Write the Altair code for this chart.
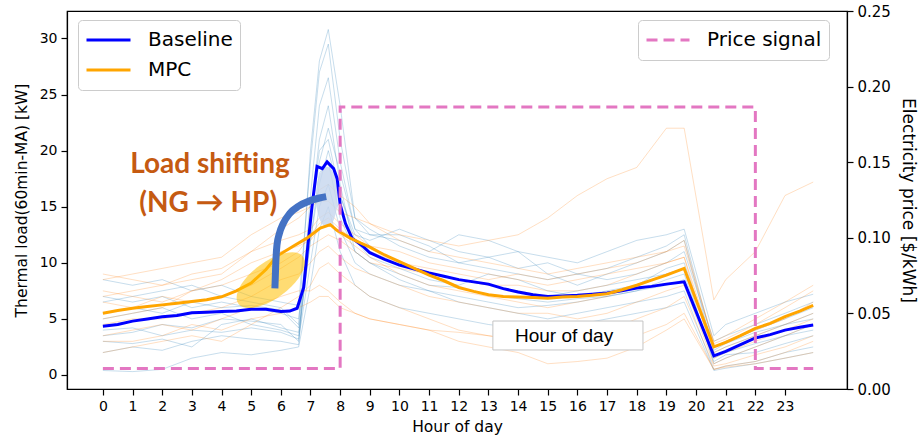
import altair as alt
import pandas as pd

# ---------------- data ----------------
X_TICKS = list(range(24))
KW_TICKS = [0, 5, 10, 15, 20, 25, 30]
PRICE_TICKS = [0.0, 0.05, 0.10, 0.15, 0.20, 0.25]

base_t = [0, 0.5, 1, 1.5, 2, 2.5, 3, 3.5, 4, 4.5, 5, 5.5, 6, 6.3, 6.55, 6.77, 6.93, 7.05, 7.22, 7.4,
          7.56, 7.78, 7.9, 8.0, 8.18, 8.4, 8.8, 9, 9.5, 10, 10.5, 11, 11.5, 12, 12.5, 13, 13.5, 14, 14.5, 15,
          15.5, 16, 16.5, 17, 17.5, 18, 18.5, 19, 19.6, 20.6, 21, 21.5, 22, 22.5, 23, 23.5, 23.95]
base_v = [4.35, 4.5, 4.8, 5.0, 5.2, 5.3, 5.55, 5.6, 5.65, 5.7, 5.85, 5.85, 5.65, 5.7, 5.95, 7.8, 12.0, 15.0, 18.6, 18.4,
          19.0, 18.4, 17.5, 15.2, 13.5, 12.2, 11.4, 10.9, 10.3, 9.8, 9.45, 9.1, 8.8, 8.5, 8.3, 8.1, 7.7, 7.4, 7.15, 7.0,
          7.05, 7.1, 7.2, 7.3, 7.5, 7.75, 7.9, 8.1, 8.3, 1.7, 2.1, 2.7, 3.3, 3.6, 4.0, 4.25, 4.45]

mpc_t = [0, 0.5, 1, 1.5, 2, 2.5, 3, 3.5, 4, 4.5, 5, 5.5, 5.87, 6.43, 6.88, 7.33, 7.67, 7.89, 8.34,
         8.7, 9, 9.5, 10, 10.5, 11, 11.5, 12, 12.5, 13, 13.5, 14, 14.5, 15, 15.5, 16, 16.5, 17, 17.5, 18,
         18.5, 19, 19.6, 20.6, 21, 21.5, 22, 22.5, 23, 23.5, 23.95]
mpc_v = [5.5, 5.75, 5.95, 6.1, 6.25, 6.4, 6.55, 6.7, 6.97, 7.5, 8.2, 9.4, 10.6, 11.5, 12.2, 13.1, 13.4, 12.9, 12.2,
         11.75, 11.4, 10.7, 10.1, 9.5, 8.9, 8.4, 7.8, 7.45, 7.15, 7.0, 6.95, 6.9, 6.85, 6.95, 7.0, 7.1, 7.25, 7.6, 8.0,
         8.45, 8.9, 9.5, 2.5, 2.9, 3.5, 4.15, 4.6, 5.2, 5.7, 6.2]

price_t = [0, 8, 22, 23.95]
price_v = [0.0135, 0.1865, 0.0135, 0.0135]

bg_t = [0, 1, 2, 3, 4, 5, 6, 6.6, 7.0, 7.3, 7.6, 8.0, 8.5, 9, 10, 11, 12, 13, 14, 15,
        16, 17, 18, 19, 19.6, 20.6, 21, 22, 23, 23.95]

bg_blue = [
    [6.5, 7, 7.5, 8, 7, 6.5, 6, 4.5, 20, 28, 30.8, 24, 14, 13, 11.5, 10.5, 10, 9.5, 9, 8.5, 9, 9.5, 10.5, 11.5, 12.5, 2.5, 3, 4, 5, 6],
    [8.5, 8, 8.5, 7.5, 8, 7, 6.5, 6.2, 19, 27, 29.5, 21, 14, 12.5, 12, 11, 12.5, 12, 11, 10.5, 10, 11, 12, 12.5, 13, 3.5, 4.5, 5.5, 6.5, 7.2],
    [3.5, 3.8, 4.5, 4.2, 5, 4.8, 4.5, 3, 16, 24, 26.5, 19, 13, 11.5, 10, 9, 8.5, 8, 7.5, 7, 7.5, 8, 8.5, 9, 9.5, 1, 1.5, 2.5, 3.5, 4],
    [2, 2.5, 2.2, 3, 3.5, 3.2, 3, 2.7, 14, 21, 24, 17, 11, 10, 8.5, 7.5, 6.5, 6, 5.5, 5, 5.5, 6, 6.5, 7, 7.5, 0.5, 0.8, 1.2, 2, 2.5],
    [5, 5.5, 6, 5, 5.5, 4.5, 4, 3.5, 12, 17, 20, 16, 12.5, 12, 13, 12, 11, 10.5, 9.5, 10, 9, 8.5, 9, 10, 11, 3, 3.5, 4.5, 5.5, 6.5],
    [4, 4.2, 3.5, 4, 3.8, 4.2, 3.8, 3.2, 10, 15, 17, 13, 10, 9, 8, 7.5, 7, 6.5, 6, 6.2, 6.5, 7, 7.5, 8, 8.5, 1.5, 2, 2.8, 3.5, 4.5],
    [7, 6.5, 7, 6, 6.5, 6, 5.5, 5, 14, 19, 22, 18, 13, 12.5, 12.5, 11.5, 10, 10.5, 11, 9, 8, 9, 10, 11, 12, 2, 2.5, 3.5, 4.5, 5.5],
    [0.4, 0.3, 0.5, 1.5, 2, 1.8, 2.2, 2.5, 8, 13, 15, 11, 8, 7, 6, 5.5, 5, 4.5, 4.2, 4, 4.5, 5, 5.5, 6, 6.5, 0.4, 0.6, 1, 1.5, 2],
    [5.5, 6, 5.5, 6.5, 6, 6.2, 5.8, 4.2, 14, 20, 21, 16, 12, 10.5, 9.5, 8.5, 8, 9, 8.5, 7.5, 7, 7.5, 8, 9.5, 10, 2.2, 2.8, 3.8, 4.5, 5],
    [3, 2.8, 3.2, 2.5, 4.5, 5, 4.2, 3.8, 12, 18, 19, 14, 11, 10, 9, 8, 7.8, 7.2, 6.8, 6.5, 6.8, 7, 7.5, 8.5, 9, 1.2, 1.8, 2, 2.8, 3.5],
]

bg_orange = [
    [7, 7.5, 8, 8.5, 9, 11, 13, 14, 15, 15.5, 15.5, 14.5, 14, 13.5, 12.5, 12, 11.5, 12, 12.5, 14, 16, 17.5, 18.5, 22, 22, 6.7, 8.5, 11, 16, 17.2],
    [8.5, 9, 9.5, 10, 10.5, 12.5, 14, 14.5, 15, 16.5, 17, 16, 15, 13.5, 12, 11, 10.5, 10, 9.5, 9, 9.5, 10, 10.5, 11, 11.5, 3, 3.5, 5, 6.5, 8],
    [5, 5.5, 6, 7.5, 8.5, 10, 11, 11.5, 12, 13, 13.5, 12.5, 11.5, 10.5, 9, 8, 7.5, 7, 6.5, 6, 6.5, 7, 8, 9, 9.5, 2, 2.5, 3.5, 4.5, 5.5],
    [2, 2.5, 3, 3.5, 3, 4.5, 6, 7, 8, 9.5, 10, 9, 8, 7, 6, 5, 4, 3.5, 3, 3, 3.5, 4, 5, 6, 7, 0.8, 1, 1.8, 2.5, 3.5],
    [6.5, 6, 7, 6.5, 7, 8, 9.5, 10.5, 11.5, 12, 12.5, 12, 11, 10, 9.5, 9, 8.5, 8, 8, 7.5, 7.5, 8, 9, 10, 10.5, 2.5, 3, 4, 5, 6.5],
    [3.5, 4, 4.5, 4, 5, 6, 7, 7.5, 7.5, 8, 7.5, 6.5, 5.5, 5, 4.5, 4, 3, 2.5, 2, 1, 1.2, 1.5, 2.5, 4, 5, 0.5, 0.8, 1.2, 2, 3],
    [9, 8.5, 8, 9, 9.5, 11, 12, 12.5, 13, 14, 14.5, 13.5, 12.5, 11.5, 11, 10, 9.5, 9, 8.5, 8, 8.5, 9, 9.5, 10, 10.5, 1.5, 2, 3, 4, 5],
    [4.5, 5, 5, 5.5, 6, 7, 8.5, 9, 10, 11, 11.5, 10.5, 9.5, 9, 8, 7, 6.5, 6, 5.5, 5.5, 5, 5.5, 6.5, 7.5, 8, 1, 1.5, 2.5, 3.5, 4.5],
    [7.5, 7, 6.5, 7.5, 8, 9, 10, 11, 12.5, 13.5, 14, 13, 12, 11, 10, 9.5, 9, 8.5, 9, 8.5, 9, 9.5, 10, 11, 12, 2.8, 3.2, 4.5, 6, 7.5],
    [3, 3, 3.5, 4.5, 4, 5, 5.5, 6, 6.5, 7, 7, 6, 5.5, 5, 4.5, 4, 3.8, 3.5, 3.2, 3, 2.8, 3, 3.5, 4.5, 5.5, 0.5, 0.7, 1, 1.5, 2],
]

# annotation geometry (data coordinates)
arrow_t = [5.80, 5.83, 5.87, 5.95, 6.08, 6.3, 6.6, 6.95, 7.3, 7.53]
arrow_v = [7.73, 10.0, 11.6, 12.6, 13.5, 14.4, 15.05, 15.5, 15.78, 15.9]

label_lines = ["Load shifting", "(NG \u2192 HP)"]
label_t = [3.61, 3.55]
label_v = [18.0, 14.55]

# ---------------- frames ----------------
def long_df(lines, prefix):
    rows = []
    for i, vals in enumerate(lines):
        for t, v in zip(bg_t, vals):
            rows.append({"id": f"{prefix}{i}", "t": t, "v": v})
    return pd.DataFrame(rows)

df_bb = long_df(bg_blue, "b")
df_bo = long_df(bg_orange, "o")
df_main = pd.concat([
    pd.DataFrame({"t": base_t, "v": base_v, "series": "Baseline"}),
    pd.DataFrame({"t": mpc_t, "v": mpc_v, "series": "MPC"}),
])
df_price = pd.DataFrame({"t": price_t, "p": price_v, "s": "Price signal"})
df_arrow = pd.DataFrame({"t": arrow_t, "v": arrow_v, "k": list(range(len(arrow_t)))})
df_label = pd.DataFrame({"t": label_t, "v": label_v, "txt": label_lines})
df_ell = pd.DataFrame({"t": [5.66], "v": [8.45]})
df_blob = pd.DataFrame({"t": [7.55], "v": [15.9]})
df_box = pd.DataFrame({"t": [13.15], "t2": [18.21], "v": [4.81], "v2": [2.23]})
df_boxtxt = pd.DataFrame({"t": [15.55], "v": [3.5], "txt": ["Hour of day"]})

# ---------------- scales / axes ----------------
xs = alt.Scale(domain=[-1.21, 25.09], nice=False, zero=False)
ys = alt.Scale(domain=[-1.25, 32.45], nice=False, zero=False)
x_axis = alt.Axis(values=X_TICKS, title="Hour of day", labelFontSize=14, titleFontSize=15.5,
                  labelOverlap=False, labelPadding=4, titlePadding=6, tickSize=6)
y_axis = alt.Axis(values=KW_TICKS, title="Thermal load(60min-MA) [kW]", labelFontSize=14,
                  titleFontSize=15.5, labelPadding=4, titlePadding=10, tickSize=6)

X = alt.X("t:Q", scale=xs, axis=x_axis)
Y = alt.Y("v:Q", scale=ys, axis=y_axis)

bg_blue_layer = alt.Chart(df_bb).mark_line(strokeWidth=1, color="#1f77b4", opacity=0.25).encode(
    x=X, y=Y, detail="id:N")
bg_orange_layer = alt.Chart(df_bo).mark_line(strokeWidth=1, color="#ff7f0e", opacity=0.25).encode(
    x=X, y=Y, detail="id:N")

blob_shape = "M 0 -1 A 0.36 1 0 1 1 0 1 A 0.36 1 0 1 1 0 -1 Z"
blob = alt.Chart(df_blob).mark_point(shape=blob_shape, filled=True, fill="#c6d6ee", opacity=0.8,
                                      strokeWidth=0, size=3600).encode(x=X, y=Y)

main_lines = alt.Chart(df_main).mark_line(strokeWidth=3).encode(
    x=X, y=Y,
    color=alt.Color("series:N", scale=alt.Scale(domain=["Baseline", "MPC"], range=["#0000ff", "#ffa500"]),
                    legend=alt.Legend(title=None, orient="none", legendX=11, legendY=9,
                                      symbolType="stroke", symbolSize=1936, symbolStrokeWidth=3,
                                      labelFontSize=20, labelFont="DejaVu Sans", labelOffset=16,
                                      clipHeight=26, rowPadding=4, padding=7,
                                      fillColor="white", strokeColor="#cccccc", cornerRadius=4)),
)

ell_shape = "M -1 0 A 1 0.46 0 1 1 1 0 A 1 0.46 0 1 1 -1 0 Z"
ellipse = alt.Chart(df_ell).mark_point(shape=ell_shape, filled=True, fill="#ffc000", opacity=0.55,
                                        strokeWidth=0, size=6400, angle=324).encode(x=X, y=Y)

arrow = alt.Chart(df_arrow).mark_line(strokeWidth=7, color="#4472c4", strokeCap="butt",
                                       interpolate="monotone").encode(x=X, y=Y, order="k:Q")

labels = alt.Chart(df_label).mark_text(font="Lato", fontWeight="bold", fontSize=28, color="#c55a11",
                                        align="center", baseline="alphabetic").encode(x=X, y=Y, text="txt:N")

box = alt.Chart(df_box).mark_rect(fill="white", stroke="#c4c4c4", strokeWidth=1).encode(
    x=X, x2="t2:Q", y=Y, y2="v2:Q")
box_txt = alt.Chart(df_boxtxt).mark_text(font="Liberation Sans", fontSize=19, color="black",
                                          align="center", baseline="middle").encode(x=X, y=Y, text="txt:N")

kw_group = alt.layer(bg_blue_layer, bg_orange_layer, blob, main_lines, ellipse, arrow, labels, box, box_txt)

price = alt.Chart(df_price).mark_line(strokeWidth=3, color="#e377c2", interpolate="step-after").encode(
    x=X,
    y=alt.Y("p:Q", scale=alt.Scale(domain=[0, 0.25], nice=False, zero=False),
            axis=alt.Axis(orient="right", values=PRICE_TICKS, format=".2f", title="Electricity price [$/kWh]",
                          labelFontSize=15, titleFontSize=17, labelPadding=4, titlePadding=8, tickSize=6)),
    strokeDash=alt.StrokeDash("s:N", scale=alt.Scale(domain=["Price signal"], range=[[11, 6]]),
                              legend=alt.Legend(title=None, orient="none", legendX=571, legendY=9,
                                                symbolType="stroke", symbolSize=1849, symbolStrokeWidth=3,
                                                symbolStrokeColor="#e377c2",
                                                labelFontSize=20, labelFont="DejaVu Sans", labelOffset=16,
                                                clipHeight=26, padding=7,
                                                fillColor="white", strokeColor="#cccccc", cornerRadius=4)),
)

chart = alt.layer(kw_group, price).resolve_scale(y="independent").properties(
    width=780, height=378,
    autosize=alt.AutoSizeParams(type="none"),
    padding={"left": 67, "top": 11, "right": 73, "bottom": 50},
).configure_view(stroke="black", strokeWidth=1.2).configure_axis(
    labelFont="DejaVu Sans", titleFont="DejaVu Sans", labelColor="black", titleColor="black",
    domainColor="black", tickColor="black", grid=False, titleFontWeight="normal",
    domainWidth=1.2, tickWidth=1.2,
)

chart.save("out.html", embed_options={"renderer": "svg", "actions": False})
